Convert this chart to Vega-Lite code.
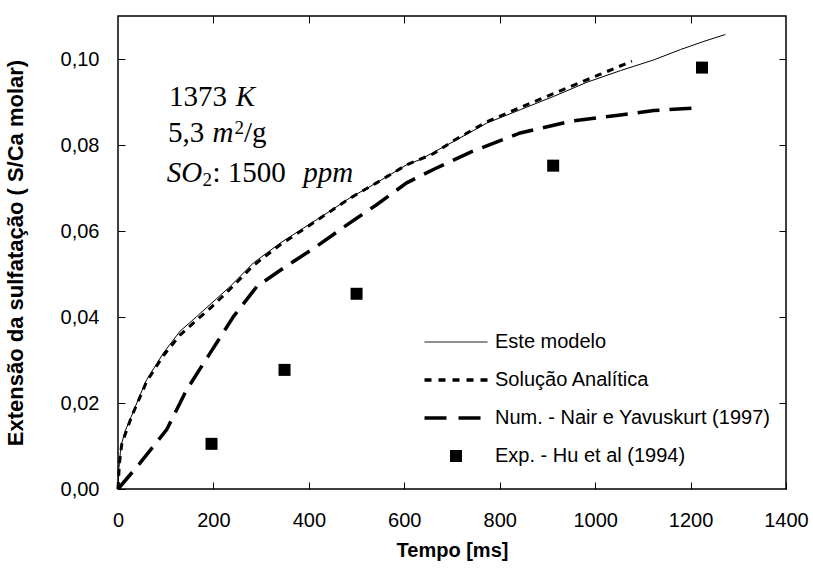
{
  "$schema": "https://vega.github.io/schema/vega-lite/v6.json",
  "width": 668,
  "height": 473,
  "autosize": "none",
  "padding": {"left": 118, "top": 16, "right": 27, "bottom": 89},
  "background": "white",
  "config": {
    "view": {"stroke": "black", "strokeWidth": 1.5},
    "font": "Liberation Sans",
    "axis": {"domain": false, "grid": false, "tickColor": "black", "tickWidth": 1, "labelColor": "black", "titleColor": "black"}
  },
  "datasets": {
    "curves": [
      {"serie": "Este modelo", "t": 0, "v": 0},
      {"serie": "Este modelo", "t": 2, "v": 0.005},
      {"serie": "Este modelo", "t": 5, "v": 0.0085},
      {"serie": "Este modelo", "t": 8, "v": 0.0107},
      {"serie": "Este modelo", "t": 15, "v": 0.0135},
      {"serie": "Este modelo", "t": 28, "v": 0.0169},
      {"serie": "Este modelo", "t": 45, "v": 0.0215},
      {"serie": "Este modelo", "t": 60, "v": 0.0254},
      {"serie": "Este modelo", "t": 95, "v": 0.0316},
      {"serie": "Este modelo", "t": 130, "v": 0.0367},
      {"serie": "Este modelo", "t": 165, "v": 0.0401},
      {"serie": "Este modelo", "t": 193, "v": 0.0429},
      {"serie": "Este modelo", "t": 235, "v": 0.0471},
      {"serie": "Este modelo", "t": 284, "v": 0.0526},
      {"serie": "Este modelo", "t": 340, "v": 0.0572},
      {"serie": "Este modelo", "t": 389, "v": 0.0607},
      {"serie": "Este modelo", "t": 444, "v": 0.0646},
      {"serie": "Este modelo", "t": 486, "v": 0.0677},
      {"serie": "Este modelo", "t": 542, "v": 0.0712},
      {"serie": "Este modelo", "t": 605, "v": 0.0754},
      {"serie": "Este modelo", "t": 633, "v": 0.0766},
      {"serie": "Este modelo", "t": 703, "v": 0.0808},
      {"serie": "Este modelo", "t": 773, "v": 0.0851},
      {"serie": "Este modelo", "t": 843, "v": 0.0882},
      {"serie": "Este modelo", "t": 913, "v": 0.0913},
      {"serie": "Este modelo", "t": 983, "v": 0.0946},
      {"serie": "Este modelo", "t": 1053, "v": 0.0973},
      {"serie": "Este modelo", "t": 1123, "v": 0.0998},
      {"serie": "Este modelo", "t": 1179, "v": 0.1022},
      {"serie": "Este modelo", "t": 1228, "v": 0.1041},
      {"serie": "Este modelo", "t": 1273, "v": 0.1057},
      {"serie": "Solução Analítica", "t": 0, "v": 0},
      {"serie": "Solução Analítica", "t": 3, "v": 0.006},
      {"serie": "Solução Analítica", "t": 8, "v": 0.0105},
      {"serie": "Solução Analítica", "t": 28, "v": 0.0167},
      {"serie": "Solução Analítica", "t": 60, "v": 0.025},
      {"serie": "Solução Analítica", "t": 95, "v": 0.031},
      {"serie": "Solução Analítica", "t": 130, "v": 0.0358},
      {"serie": "Solução Analítica", "t": 165, "v": 0.0393},
      {"serie": "Solução Analítica", "t": 193, "v": 0.042},
      {"serie": "Solução Analítica", "t": 235, "v": 0.0465},
      {"serie": "Solução Analítica", "t": 284, "v": 0.052},
      {"serie": "Solução Analítica", "t": 340, "v": 0.0568},
      {"serie": "Solução Analítica", "t": 389, "v": 0.0604},
      {"serie": "Solução Analítica", "t": 444, "v": 0.0645},
      {"serie": "Solução Analítica", "t": 486, "v": 0.0676},
      {"serie": "Solução Analítica", "t": 542, "v": 0.0712},
      {"serie": "Solução Analítica", "t": 605, "v": 0.0754},
      {"serie": "Solução Analítica", "t": 660, "v": 0.0779},
      {"serie": "Solução Analítica", "t": 703, "v": 0.081},
      {"serie": "Solução Analítica", "t": 773, "v": 0.0854},
      {"serie": "Solução Analítica", "t": 864, "v": 0.0897},
      {"serie": "Solução Analítica", "t": 933, "v": 0.0929},
      {"serie": "Solução Analítica", "t": 1010, "v": 0.0964},
      {"serie": "Solução Analítica", "t": 1077, "v": 0.0995},
      {"serie": "Num. - Nair e Yavuskurt (1997)", "t": 0, "v": 0},
      {"serie": "Num. - Nair e Yavuskurt (1997)", "t": 46, "v": 0.006},
      {"serie": "Num. - Nair e Yavuskurt (1997)", "t": 102, "v": 0.0138},
      {"serie": "Num. - Nair e Yavuskurt (1997)", "t": 144, "v": 0.0231},
      {"serie": "Num. - Nair e Yavuskurt (1997)", "t": 193, "v": 0.0316},
      {"serie": "Num. - Nair e Yavuskurt (1997)", "t": 242, "v": 0.0401},
      {"serie": "Num. - Nair e Yavuskurt (1997)", "t": 291, "v": 0.0471},
      {"serie": "Num. - Nair e Yavuskurt (1997)", "t": 347, "v": 0.0514},
      {"serie": "Num. - Nair e Yavuskurt (1997)", "t": 416, "v": 0.0564},
      {"serie": "Num. - Nair e Yavuskurt (1997)", "t": 486, "v": 0.0619},
      {"serie": "Num. - Nair e Yavuskurt (1997)", "t": 542, "v": 0.0661},
      {"serie": "Num. - Nair e Yavuskurt (1997)", "t": 605, "v": 0.0712},
      {"serie": "Num. - Nair e Yavuskurt (1997)", "t": 661, "v": 0.0743},
      {"serie": "Num. - Nair e Yavuskurt (1997)", "t": 738, "v": 0.0783},
      {"serie": "Num. - Nair e Yavuskurt (1997)", "t": 843, "v": 0.0828},
      {"serie": "Num. - Nair e Yavuskurt (1997)", "t": 948, "v": 0.0855},
      {"serie": "Num. - Nair e Yavuskurt (1997)", "t": 1053, "v": 0.087},
      {"serie": "Num. - Nair e Yavuskurt (1997)", "t": 1123, "v": 0.088},
      {"serie": "Num. - Nair e Yavuskurt (1997)", "t": 1208, "v": 0.0886}
    ],
    "exp": [
      {"serie": "Exp. - Hu et al (1994)", "t": 196, "v": 0.0105},
      {"serie": "Exp. - Hu et al (1994)", "t": 349, "v": 0.0277},
      {"serie": "Exp. - Hu et al (1994)", "t": 500, "v": 0.0454},
      {"serie": "Exp. - Hu et al (1994)", "t": 912, "v": 0.0752},
      {"serie": "Exp. - Hu et al (1994)", "t": 1224, "v": 0.098}
    ],
    "textNormal": [
      {"label": "1373", "t": 107, "v": 0.089},
      {"label": "5,3", "t": 105, "v": 0.0808},
      {"label": "/g", "t": 264, "v": 0.0808},
      {"label": ": 1500", "t": 198, "v": 0.0715}
    ],
    "textItalic": [
      {"label": "K", "t": 247, "v": 0.089},
      {"label": "m", "t": 198, "v": 0.0808},
      {"label": "SO", "t": 102, "v": 0.0715},
      {"label": "ppm", "t": 388, "v": 0.0715}
    ],
    "textSmall": [
      {"label": "2", "t": 244, "v": 0.0826},
      {"label": "2", "t": 177, "v": 0.0705}
    ]
  },
  "layer": [
    {
      "data": {"name": "curves"},
      "transform": [{"filter": "datum.serie === 'Este modelo'"}],
      "mark": {"type": "line", "strokeWidth": 1, "interpolate": "linear"},
      "encoding": {
        "x": {"field": "t", "type": "quantitative", "scale": {"domain": [0, 1400], "nice": false},
          "axis": {"orient": "bottom", "values": [0, 200, 400, 600, 800, 1000, 1200, 1400], "format": "d", "title": "Tempo [ms]", "titleFontSize": 20, "titleFontWeight": "bold", "titlePadding": 10, "labelFontSize": 20, "tickSize": -7, "labelPadding": 28, "labelFlush": false}},
        "y": {"field": "v", "type": "quantitative", "scale": {"domain": [0, 0.11], "nice": false},
          "axis": {"orient": "left", "values": [0, 0.02, 0.04, 0.06, 0.08, 0.1], "labelExpr": "replace(format(datum.value, '.2f'), '.', ',')", "title": "Extensão da sulfatação ( S/Ca molar)", "titleFontSize": 22, "titleFontWeight": "bold", "titlePadding": 33, "labelFontSize": 20, "tickSize": -7, "labelPadding": 26, "labelFlush": false}},
        "color": {"field": "serie", "type": "nominal",
          "scale": {"domain": ["Este modelo", "Solução Analítica", "Num. - Nair e Yavuskurt (1997)", "Exp. - Hu et al (1994)"], "range": ["black", "black", "black", "black"]},
          "legend": {
            "orient": "none", "legendX": 328, "legendY": 316, "title": null,
            "labelFontSize": 20, "labelFont": "Liberation Sans", "labelColor": "black", "labelLimit": 0,
            "rowPadding": 18, "symbolSize": 3969, "labelOffset": 29, "symbolType": "stroke",
            "encode": {
              "symbols": {
                "update": {
                  "shape": {"signal": "datum.value === 'Exp. - Hu et al (1994)' ? 'square' : 'stroke'"},
                  "size": {"signal": "datum.value === 'Exp. - Hu et al (1994)' ? 144 : 3969"},
                  "strokeDash": {"signal": "datum.value === 'Solução Analítica' ? [7, 7] : (datum.value === 'Num. - Nair e Yavuskurt (1997)' ? [22, 12] : [1, 0])"},
                  "strokeWidth": {"signal": "datum.value === 'Este modelo' ? 1 : (datum.value === 'Exp. - Hu et al (1994)' ? 0 : 3.5)"},
                  "fill": {"signal": "datum.value === 'Exp. - Hu et al (1994)' ? 'black' : 'transparent'"},
                  "stroke": {"value": "black"},
                  "opacity": {"value": 1}
                }
              }
            }
          }}
      }
    },
    {
      "data": {"name": "curves"},
      "transform": [{"filter": "datum.serie === 'Solução Analítica'"}],
      "mark": {"type": "line", "strokeWidth": 3, "strokeDash": [7, 6]},
      "encoding": {
        "x": {"field": "t", "type": "quantitative", "axis": null},
        "y": {"field": "v", "type": "quantitative", "axis": null},
        "color": {"field": "serie", "type": "nominal"}
      }
    },
    {
      "data": {"name": "curves"},
      "transform": [{"filter": "datum.serie === 'Num. - Nair e Yavuskurt (1997)'"}],
      "mark": {"type": "line", "strokeWidth": 3.5, "strokeDash": [22, 10]},
      "encoding": {
        "x": {"field": "t", "type": "quantitative", "axis": null},
        "y": {"field": "v", "type": "quantitative", "axis": null},
        "color": {"field": "serie", "type": "nominal"}
      }
    },
    {
      "data": {"name": "exp"},
      "mark": {"type": "point", "shape": "square", "filled": true, "size": 144, "opacity": 1},
      "encoding": {
        "x": {"field": "t", "type": "quantitative", "axis": null},
        "y": {"field": "v", "type": "quantitative", "axis": null},
        "color": {"field": "serie", "type": "nominal"}
      }
    },
    {
      "data": {"name": "textNormal"},
      "mark": {"type": "text", "font": "Liberation Serif", "fontSize": 29, "align": "left", "baseline": "alphabetic", "color": "black"},
      "encoding": {
        "x": {"field": "t", "type": "quantitative", "axis": {"orient": "top", "values": [200, 400, 600, 800, 1000, 1200], "labels": false, "title": null, "tickSize": -7}},
        "y": {"field": "v", "type": "quantitative", "axis": {"orient": "right", "values": [0.02, 0.04, 0.06, 0.08, 0.1], "labels": false, "title": null, "tickSize": -7}},
        "text": {"field": "label"}
      }
    },
    {
      "data": {"name": "textItalic"},
      "mark": {"type": "text", "font": "Liberation Serif", "fontSize": 29, "fontStyle": "italic", "align": "left", "baseline": "alphabetic", "color": "black"},
      "encoding": {
        "x": {"field": "t", "type": "quantitative", "axis": null},
        "y": {"field": "v", "type": "quantitative", "axis": null},
        "text": {"field": "label"}
      }
    },
    {
      "data": {"name": "textSmall"},
      "mark": {"type": "text", "font": "Liberation Serif", "fontSize": 19, "align": "left", "baseline": "alphabetic", "color": "black"},
      "encoding": {
        "x": {"field": "t", "type": "quantitative", "axis": null},
        "y": {"field": "v", "type": "quantitative", "axis": null},
        "text": {"field": "label"}
      }
    }
  ],
  "resolve": {"axis": {"x": "independent", "y": "independent"}}
}
